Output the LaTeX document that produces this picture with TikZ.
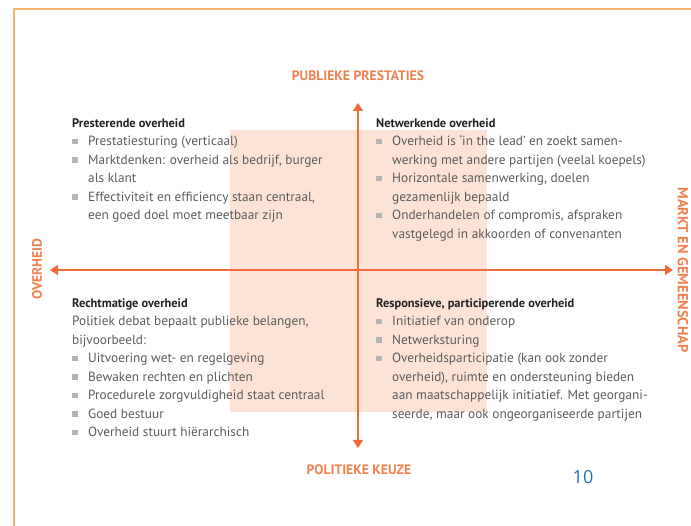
\documentclass[tikz,border=0pt]{standalone}
\usepackage{fontspec}
\setmainfont{PT Sans}
\newfontfamily\numfont{Open Sans}
\usepackage{tikz}
\usepackage{tkz-euclide}
\usetikzlibrary{arrows.meta}
\definecolor{frameorange}{HTML}{F5B36E}
\definecolor{axisorange}{HTML}{F26B3A}
\definecolor{labelorange}{HTML}{F0804E}
\definecolor{shadepeach}{HTML}{FDE3D6}
\definecolor{bodygray}{HTML}{5C5C5C}
\definecolor{titleblack}{HTML}{222222}
\definecolor{bulletgray}{HTML}{B4B4B4}
\definecolor{pageblue}{HTML}{1E6FC0}
\newcommand{\bul}{\makebox[16pt][l]{\textcolor{bulletgray}{\raisebox{1.2pt}{\rule{5.5pt}{5.5pt}}}}}
\newcommand{\ind}{\hspace*{16pt}}
\newcommand{\qtitle}[1]{\strut\textcolor{titleblack}{\fontsize{12.4}{18.5}\selectfont\bfseries #1}}

\begin{document}
\begin{tikzpicture}[x=1pt,y=-1pt,
    axis/.style={color=axisorange,line width=1.3pt,{Triangle[width=10pt,length=8pt]}-{Triangle[width=10pt,length=8pt]}},
    axislabel/.style={text=labelorange,inner sep=0pt,font=\fontsize{13.7}{15}\selectfont\bfseries},
    quadrant/.style={anchor=north west,align=left,inner sep=0pt,text=bodygray,font=\fontsize{13.3}{18.5}\selectfont}]
    \useasboundingbox (0,0) rectangle (691,526);

    \tkzDefPoints{14/526/F_BOTTOM,14/9/F_CORNER,691/9/F_RIGHT}
    \draw[frameorange,line width=1.5pt] (F_BOTTOM) -- (F_CORNER) -- (F_RIGHT);

    \fill[shadepeach] (230,130) rectangle (487,412);

    \tkzDefPoints{358/103/P_UP,358/448/P_DOWN,50/270/P_LEFT,673/270/P_RIGHT}
    \draw[axis] (P_DOWN) -- (P_UP);
    \draw[axis] (P_LEFT) -- (P_RIGHT);

    \node[axislabel,anchor=base] (L_UP) at (358,81) {PUBLIEKE PRESTATIES};
    \node[axislabel,anchor=base] (L_DOWN) at (359,475) {POLITIEKE KEUZE};
    \node[axislabel,rotate=90] (L_LEFT) at (37,269) {OVERHEID};
    \node[axislabel,rotate=-90,font=\fontsize{14.5}{16}\selectfont\bfseries] (L_RIGHT) at (683,270) {MARKT EN GEMEENSCHAP};

    \node[quadrant] (Q_NW) at (72,114) {\qtitle{Presterende overheid}\\
        \bul Prestatiesturing (verticaal)\\
        \bul Marktdenken: overheid als bedrijf, burger\\
        \ind als klant\\
        \bul Effectiviteit en efficiency staan centraal,\\
        \ind een goed doel moet meetbaar zijn};
    \node[quadrant] (Q_NE) at (376,114) {\qtitle{Netwerkende overheid}\\
        \bul Overheid is ‘in the lead’ en zoekt samen-\\
        \ind werking met andere partijen (veelal koepels)\\
        \bul Horizontale samenwerking, doelen\\
        \ind gezamenlijk bepaald\\
        \bul Onderhandelen of compromis, afspraken\\
        \ind vastgelegd in akkoorden of convenanten};
    \node[quadrant] (Q_SW) at (72,294) {\qtitle{Rechtmatige overheid}\\
        Politiek debat bepaalt publieke belangen,\\
        bijvoorbeeld:\\
        \bul Uitvoering wet- en regelgeving\\
        \bul Bewaken rechten en plichten\\
        \bul Procedurele zorgvuldigheid staat centraal\\
        \bul Goed bestuur\\
        \bul Overheid stuurt hiërarchisch};
    \node[quadrant] (Q_SE) at (376,294) {\qtitle{Responsieve, participerende overheid}\\
        \bul Initiatief van onderop\\
        \bul Netwerksturing\\
        \bul Overheidsparticipatie (kan ook zonder\\
        \ind overheid), ruimte en ondersteuning bieden\\
        \ind aan maatschappelijk initiatief. Met georgani-\\
        \ind seerde, maar ook ongeorganiseerde partijen};

    \node[text=pageblue,font=\numfont\fontsize{18}{20}\selectfont] (PAGE) at (583,477) {10};
\end{tikzpicture}
\end{document}
